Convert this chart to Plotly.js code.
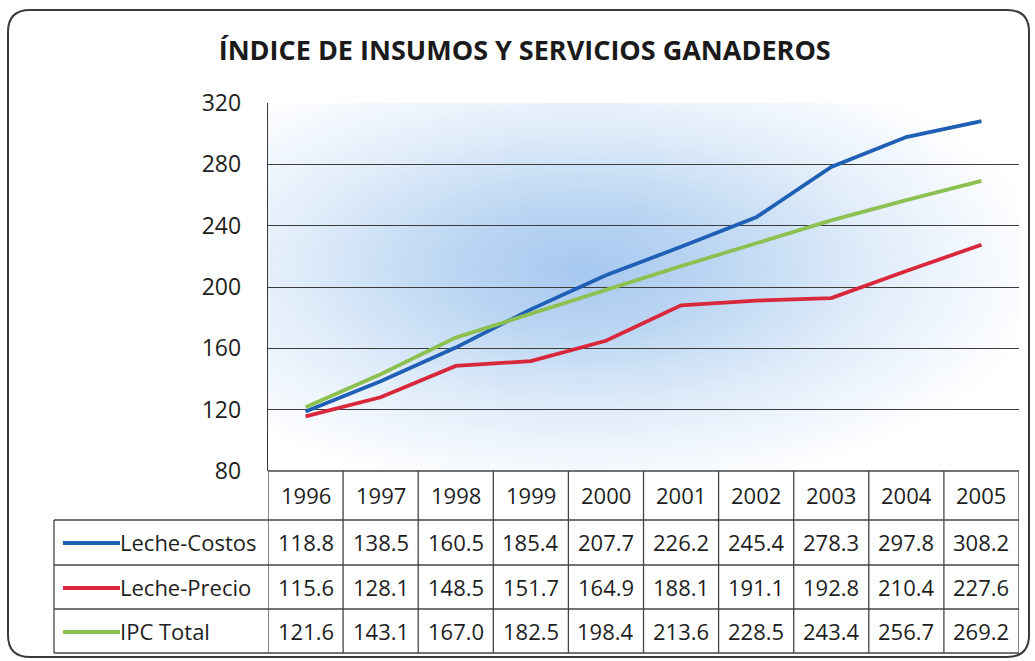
<!DOCTYPE html>
<html>
<head>
<meta charset="utf-8">
<script src="https://cdn.plot.ly/plotly-3.0.1.min.js"></script>
<style>html,body{margin:0;padding:0;background:#fff;}#chart{width:1035px;height:661px;}</style>
</head>
<body>
<div id="chart"></div>
<script>
const years = ['1996','1997','1998','1999','2000','2001','2002','2003','2004','2005'];
const lecheCostos = [118.8,138.5,160.5,185.4,207.7,226.2,245.4,278.3,297.8,308.2];
const lechePrecio = [115.6,128.1,148.5,151.7,164.9,188.1,191.1,192.8,210.4,227.6];
const ipcTotal = [121.6,143.1,167.0,182.5,198.4,213.6,228.5,243.4,256.7,269.2];
const seriesNames = ['Leche-Costos','Leche-Precio','IPC Total'];
const yTicks = [80,120,160,200,240,280,320];

const W = 1035, H = 661;
const L = 268, R = 16, T = 103, B = 190;
const pw = W - L - R, ph = H - T - B;
const px = p => (p - L) / pw;          // pixel x -> paper
const py = p => (H - B - p) / ph;      // pixel y -> paper

const FONT = 'Open Sans, sans-serif';
const TXT = '#1e1e1e';
const colors = ['#1f5fb5','#d9283c','#8cc152'];
const seriesData = [lecheCostos, lechePrecio, ipcTotal];

const traces = seriesData.map((d, i) => ({
  type: 'scatter', mode: 'lines', x: years, y: d, name: seriesNames[i],
  line: {color: colors[i], width: 3.8}, hoverinfo: 'skip'
}));

const gradSvg = '<svg xmlns="http://www.w3.org/2000/svg" width="750" height="368" viewBox="0 0 750 368" preserveAspectRatio="none">' +
  '<defs><radialGradient id="g" cx="0.42" cy="0.45" r="0.62" fx="0.42" fy="0.45">' +
  '<stop offset="0" stop-color="#a6c8ef"/><stop offset="0.3" stop-color="#bdd7f3"/>' +
  '<stop offset="0.65" stop-color="#e3eefa"/><stop offset="1" stop-color="#ffffff"/></radialGradient></defs>' +
  '<rect width="750" height="368" fill="url(#g)"/></svg>';

const shapes = [];
const annotations = [];
const lineC = '#444';
const rowB = [471, 520, 565, 609, 653];
const rowCenters = [542, 587, 631];
shapes.push({type:'line', xref:'paper', yref:'paper', x0:0, x1:1, y0:py(rowB[0]), y1:py(rowB[0]), line:{color:lineC, width:1.3}});
for (let k = 1; k < rowB.length; k++) {
  shapes.push({type:'line', xref:'paper', yref:'paper', x0:px(54), x1:1, y0:py(rowB[k]), y1:py(rowB[k]), line:{color:lineC, width:1.3}});
}
for (let c = 0; c <= years.length; c++) {
  shapes.push({type:'line', xref:'x', yref:'paper', x0:c-0.5, x1:c-0.5, y0:py(rowB[0]), y1:py(rowB[4]), line:{color:lineC, width:1.3}});
}
shapes.push({type:'line', xref:'paper', yref:'paper', x0:px(54), x1:px(54), y0:py(rowB[1]), y1:py(rowB[4]), line:{color:lineC, width:1.3}});
const bx0 = px(8), bx1 = px(1029), by0 = py(10), by1 = py(657);
const rx = 22 / pw, ry = 22 / ph;
shapes.push({type:'path', xref:'paper', yref:'paper', layer:'above',
  path: `M ${bx0+rx},${by0} L ${bx1-rx},${by0} Q ${bx1},${by0} ${bx1},${by0-ry} L ${bx1},${by1+ry} Q ${bx1},${by1} ${bx1-rx},${by1} L ${bx0+rx},${by1} Q ${bx0},${by1} ${bx0},${by1+ry} L ${bx0},${by0-ry} Q ${bx0},${by0} ${bx0+rx},${by0} Z`,
  line:{color:'#3a3a3a', width:2}});

const cellFont = {family:FONT, size:22, color:TXT};
years.forEach((yr, i) => annotations.push({xref:'x', yref:'paper', x:i, y:py(495), text:yr, showarrow:false,
  xanchor:'center', yanchor:'middle', font:cellFont}));
seriesData.forEach((d, s) => {
  d.forEach((v, i) => annotations.push({xref:'x', yref:'paper', x:i, y:py(rowCenters[s]), text:v.toFixed(1), showarrow:false,
    xanchor:'center', yanchor:'middle', font:cellFont}));
  annotations.push({xref:'paper', yref:'paper', x:px(118), y:py(rowCenters[s]), xanchor:'left', yanchor:'middle', text:seriesNames[s], showarrow:false,
    font:cellFont});
  shapes.push({type:'line', xref:'paper', yref:'paper', x0:px(63), x1:px(120), y0:py(rowCenters[s]+1), y1:py(rowCenters[s]+1),
    line:{color:colors[s], width:3.8}});
});

const layout = {
  width: W, height: H,
  margin: {l: L, r: R, t: T, b: B, pad: 0},
  paper_bgcolor: '#ffffff', plot_bgcolor: 'rgba(0,0,0,0)',
  showlegend: false,
  title: {text: 'ÍNDICE DE INSUMOS Y SERVICIOS GANADEROS', x: 0.507, xanchor: 'center', y: 0.923, yanchor: 'middle',
    font: {family: FONT, size: 27, color: '#1a1a1a', weight: 'bold'}},
  xaxis: {type: 'category', range: [-0.5, 9.5], showticklabels: false, showgrid: false, zeroline: false,
    showline: false, ticks: '', fixedrange: true},
  yaxis: {range: [80, 320], tickvals: yTicks, ticktext: yTicks.map(String), showgrid: true, gridcolor: '#3c3c3c', gridwidth: 1,
    zeroline: false, showline: true, linecolor: '#3c3c3c', linewidth: 1.3, ticks: '', ticklabelstandoff: 21,
    tickfont: {family: FONT, size: 23, color: TXT}, fixedrange: true},
  images: [{source: 'data:image/svg+xml;charset=utf-8,' + encodeURIComponent(gradSvg), xref: 'paper', yref: 'paper',
    x: 0, y: 1, sizex: 1, sizey: 1, sizing: 'stretch', layer: 'below', xanchor: 'left', yanchor: 'top'}],
  shapes: shapes,
  annotations: annotations
};

Plotly.newPlot('chart', traces, layout, {displayModeBar: false, staticPlot: true});
</script>
</body>
</html>
